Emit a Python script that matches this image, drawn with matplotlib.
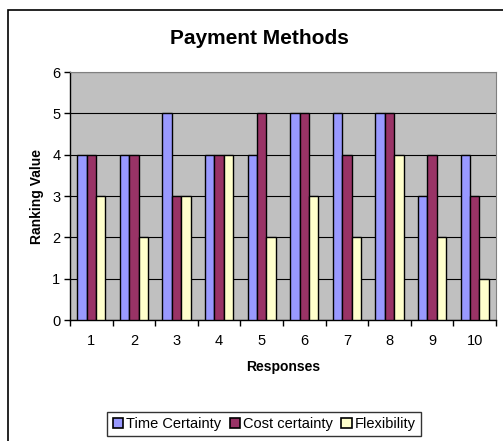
import matplotlib
matplotlib.use("Agg")
import matplotlib.pyplot as plt
import matplotlib.patches as mpatches
import numpy as np

plt.rcParams['font.family'] = ['Liberation Sans', 'DejaVu Sans']

# Datos
respuestas = ['1', '2', '3', '4', '5', '6', '7', '8', '9', '10']
time_certainty = [4, 4, 5, 4, 4, 5, 5, 5, 3, 4]
cost_certainty = [4, 4, 3, 4, 5, 5, 4, 5, 4, 3]
flexibility = [3, 2, 3, 4, 2, 3, 2, 4, 2, 1]
series = ['Time Certainty', 'Cost certainty', 'Flexibility']
colores = ['#9999FF', '#993366', '#FFFFCC']

fig = plt.figure(figsize=(5.03, 4.41), dpi=100)
fig.patch.set_facecolor('white')
ax = fig.add_axes([70/503, 1 - 320/441, 426/503, 248/441])
ax.set_facecolor('#C0C0C0')

x = np.arange(1, len(respuestas) + 1)
width = 0.222
for i, (vals, c) in enumerate(zip([time_certainty, cost_certainty, flexibility], colores)):
    ax.bar(x + (i - 1) * width, vals, width, color=c, edgecolor='black', linewidth=1, zorder=3)

ax.set_xlim(0.5, len(respuestas) + 0.5)
ax.set_ylim(0, 6)
ax.set_yticks(range(0, 7))
ax.set_xticks(x)
ax.set_xticklabels(respuestas)
ax.set_xticks(np.arange(0.5, len(respuestas) + 1), minor=True)
ax.tick_params(axis='x', which='major', length=0, pad=10, labelsize=10.5)
ax.tick_params(axis='x', which='minor', length=4, direction='out', width=1)
ax.tick_params(axis='y', length=4, direction='out', width=1, labelsize=10.5, pad=3)
ax.grid(axis='y', color='black', linewidth=0.8, zorder=0)
ax.set_axisbelow(True)

for s in ['top', 'right']:
    ax.spines[s].set_color('#808080')
for s in ['left', 'bottom']:
    ax.spines[s].set_color('black')
    ax.spines[s].set_linewidth(1)

ax.set_xlabel('Responses', fontsize=10, fontweight='bold', labelpad=9)
ax.set_ylabel('Ranking Value', fontsize=10, fontweight='bold', labelpad=6)
fig.text(259/503, 1 - 38/441, 'Payment Methods', fontsize=15, fontweight='bold',
         ha='center', va='center')

handles = [mpatches.Patch(facecolor=c, edgecolor='black', linewidth=1.2, label=s)
           for s, c in zip(series, colores)]
leg = fig.legend(handles=handles, loc='center', bbox_to_anchor=(264/503, 1 - 424/441),
                 ncol=3, frameon=True, fontsize=10.5, handlelength=0.7, handleheight=0.7,
                 handletextpad=0.2, columnspacing=0.6, borderpad=0.35, fancybox=False)
leg.get_frame().set_edgecolor('black')
leg.get_frame().set_linewidth(1)

# Borde exterior del gráfico
borde = mpatches.Rectangle((8/503, -0.2), 1.2, 1.2 - 10/441, transform=fig.transFigure,
                           fill=False, edgecolor='black', linewidth=1.2, clip_on=False)
fig.patches.append(borde)

fig.savefig('out.png', dpi=100)
